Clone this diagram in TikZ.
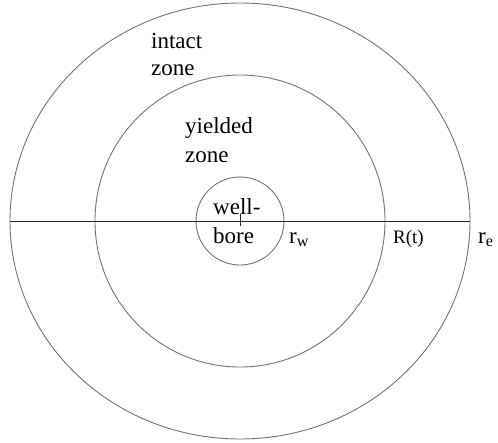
\documentclass[tikz,border=0pt]{standalone}
\usepackage{fontspec}
\newfontfamily\tnr{Liberation Serif}
\begin{document}
\begin{tikzpicture}[x=1pt,y=-1pt,
  ring/.style={draw=black!55,line width=0.9pt},
  axis/.style={draw=black!85,line width=0.9pt},
  lbl/.style={anchor=base west,inner sep=0pt,font=\tnr\fontsize{23}{27}\selectfont}]
\useasboundingbox (0,0) rectangle (498,442);
\draw[ring] (240,221) ellipse [x radius=230,y radius=218];
\draw[ring] (240,221) ellipse [x radius=145,y radius=146];
\draw[ring] (240,221) circle [radius=44];
\coordinate (L) at (10,221);
\coordinate (R) at (470,221);
\draw[axis] (L) -- (R);
\coordinate (t1) at (240,214);
\coordinate (t2) at (240,226);
\draw[axis] (t1) -- (t2);
\node[lbl] (intact) at (151,48) {intact};
\node[lbl] (zone1) at (151,75) {zone};
\node[lbl] (yielded) at (185,133) {yielded};
\node[lbl] (zone2) at (185,162) {zone};
\node[lbl] (well) at (213,214) {well-};
\node[lbl] (bore) at (213,243) {bore};
\node[lbl] (rw) at (289,243) {r\textsubscript{w}};
\node[lbl,font=\tnr\fontsize{19}{22}\selectfont] (Rt) at (393,243) {R(t)};
\node[lbl] (re) at (478,243) {r\textsubscript{e}};
\end{tikzpicture}
\end{document}
